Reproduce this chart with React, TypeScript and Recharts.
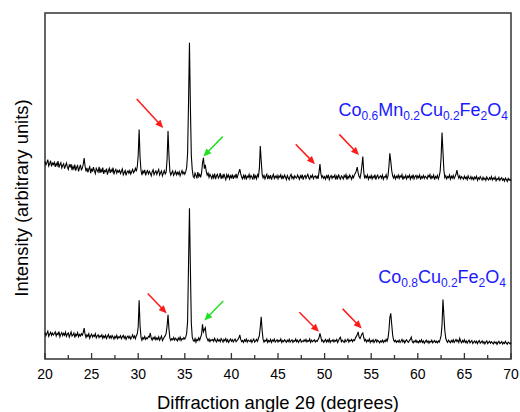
import { LineChart, Line, XAxis, YAxis, ReferenceLine } from "recharts";

document.body.style.margin = "0";

// 2θ grid: 20° .. 70° every 0.1°
const angleStart = 20;
const angleStep = 0.1;

// Co0.6Mn0.2Cu0.2Fe2O4 (one row per degree)
const topIntensity = [
  524, 515, 521, 529, 512, 518, 526, 511, 520, 516,
  522, 510, 519, 513, 525, 508, 516, 521, 507, 514,
  518, 505, 513, 520, 509, 503, 515, 510, 517, 501,
  511, 504, 516, 500, 509, 513, 498, 507, 515, 502,
  506, 516, 533, 512, 498, 507, 495, 504, 510, 493,
  505, 497, 509, 499, 492, 506, 501, 496, 510, 494,
  503, 495, 508, 491, 500, 497, 505, 489, 499, 506,
  494, 502, 497, 508, 490, 499, 503, 493, 500, 496,
  501, 492, 498, 504, 489, 495, 500, 487, 496, 499,
  493, 500, 491, 497, 503, 494, 499, 506, 498, 510,
  540, 609, 535, 500, 488, 499, 494, 502, 487, 496,
  500, 491, 498, 493, 486, 497, 502, 489, 495, 499,
  490, 497, 503, 488, 494, 499, 486, 493, 500, 491,
  496, 530, 605, 540, 497, 488, 494, 499, 487, 492,
  498, 489, 495, 490, 497, 486, 493, 500, 491, 496,
  490, 497, 508, 545, 680, 839, 670, 540, 502, 485,
  481, 493, 487, 479, 496, 484, 490, 482, 494, 520,
  534, 505, 515, 498, 488, 493, 482, 490, 485, 479,
  488, 481, 492, 477, 486, 490, 480, 484, 493, 478,
  487, 479, 491, 483, 476, 489, 482, 488, 478, 486,
  481, 490, 478, 486, 482, 491, 479, 488, 496, 504,
  491, 483, 478, 487, 480, 489, 476, 485, 482, 490,
  479, 487, 483, 476, 491, 480, 486, 478, 489, 484,
  505, 565, 525, 490, 481, 487, 478, 485, 490, 477,
  486, 480, 488, 476, 484, 490, 479, 485, 481, 487,
  478, 486, 482, 489, 477, 485, 480, 488, 483, 476,
  487, 481, 476, 485, 490, 479, 484, 478, 486, 482,
  480, 488, 483, 477, 486, 481, 489, 476, 484, 487,
  479, 485, 490, 481, 477, 486, 482, 488, 478, 484,
  486, 480, 485, 478, 495, 517, 492, 481, 486, 479,
  484, 477, 486, 481, 489, 476, 483, 487, 479, 485,
  482, 488, 476, 485, 479, 490, 481, 477, 486, 483,
  478, 487, 482, 489, 476, 485, 480, 488, 483, 477,
  486, 481, 489, 493, 499, 509, 494, 484, 480, 492,
  512, 537, 497, 479, 486, 481, 488, 477, 484, 480,
  487, 478, 485, 481, 489, 476, 484, 488, 479, 483,
  486, 480, 488, 477, 484, 482, 489, 478, 485, 510,
  546, 525, 500, 486, 480, 487, 478, 485, 481, 488,
  479, 486, 482, 489, 476, 484, 480, 487, 478, 485,
  482, 488, 477, 485, 480, 489, 478, 484, 487, 479,
  486, 481, 488, 476, 484, 480, 487, 479, 485, 482,
  478, 487, 483, 489, 477, 485, 481, 488, 476, 484,
  480, 487, 478, 485, 498, 535, 601, 550, 500, 481,
  486, 478, 484, 481, 488, 477, 485, 480, 487, 479,
  484, 490, 501, 488, 480, 486, 478, 484, 481, 477,
  485, 479, 483, 476, 486, 480, 478, 484, 477, 482,
  476, 483, 479, 485, 474, 481, 477, 484, 479, 475,
  482, 476, 480, 474, 483, 478, 475, 481, 477, 484,
  475, 480, 477, 483, 473, 479, 476, 482, 474, 478,
  481, 474, 478, 472, 480, 476, 471, 479, 474, 477,
  473,
];

// Co0.8Cu0.2Fe2O4 (one row per degree)
const bottomIntensity = [
  70, 62, 68, 74, 60, 66, 71, 63, 69, 64,
  67, 72, 61, 68, 65, 73, 59, 66, 70, 62,
  68, 63, 71, 60, 66, 69, 58, 65, 72, 61,
  64, 69, 57, 66, 62, 70, 59, 65, 61, 67,
  63, 70, 82, 65, 57, 64, 60, 67, 55, 62,
  66, 58, 63, 60, 67, 56, 61, 64, 57, 62,
  59, 64, 55, 61, 57, 63, 54, 60, 65, 56,
  61, 55, 62, 58, 53, 60, 56, 63, 54, 59,
  57, 62, 54, 59, 63, 55, 60, 52, 58, 61,
  55, 60, 53, 58, 64, 56, 61, 54, 62, 67,
  85, 156, 88, 58, 50, 57, 53, 60, 52, 56,
  54, 60, 58, 69, 55, 50, 57, 53, 59, 51,
  56, 52, 59, 50, 55, 61, 49, 54, 58, 62,
  68, 88, 117, 80, 55, 49, 54, 51, 57, 50,
  55, 52, 48, 56, 51, 58, 49, 54, 52, 57,
  53, 58, 68, 100, 250, 400, 240, 95, 58, 50,
  47, 54, 45, 52, 49, 56, 50, 58, 65, 92,
  72, 78, 83, 60, 54, 48, 53, 46, 51, 49,
  52, 47, 55, 49, 45, 53, 48, 51, 46, 54,
  50, 45, 52, 48, 54, 46, 51, 44, 49, 53,
  47, 51, 45, 50, 53, 46, 49, 52, 56, 64,
  52, 46, 49, 44, 51, 47, 53, 45, 50, 48,
  46, 51, 44, 49, 53, 45, 48, 52, 47, 55,
  62, 85, 112, 75, 52, 45, 50, 47, 53, 44,
  49, 46, 52, 44, 50, 47, 53, 45, 48, 51,
  45, 50, 47, 53, 44, 49, 46, 51, 48, 44,
  50, 46, 52, 45, 48, 51, 44, 49, 47, 53,
  46, 50, 44, 49, 52, 45, 48, 46, 51, 47,
  52, 45, 49, 47, 53, 44, 50, 46, 48, 51,
  45, 49, 47, 52, 56, 68, 58, 47, 50, 44,
  48, 52, 45, 50, 46, 53, 44, 49, 47, 51,
  45, 50, 47, 52, 44, 49, 55, 58, 46, 50,
  47, 44, 51, 46, 49, 53, 45, 50, 48, 52,
  46, 51, 49, 55, 60, 64, 72, 58, 54, 60,
  66, 69, 57, 48, 52, 45, 50, 47, 53, 44,
  49, 46, 51, 44, 48, 52, 45, 50, 47, 43,
  48, 45, 50, 44, 49, 46, 52, 47, 55, 75,
  110, 121, 92, 64, 50, 46, 50, 44, 48, 45,
  50, 44, 47, 52, 45, 49, 43, 48, 51, 46,
  44, 49, 52, 58, 47, 43, 48, 45, 50, 44,
  47, 43, 49, 45, 51, 44, 48, 42, 46, 50,
  44, 48, 42, 47, 45, 50, 43, 46, 49, 44,
  47, 43, 48, 45, 52, 62, 90, 158, 115, 75,
  55, 48, 44, 50, 46, 43, 49, 45, 51, 44,
  48, 52, 46, 50, 44, 55, 47, 43, 49, 45,
  51, 44, 48, 42, 47, 50, 43, 46, 49, 41,
  45, 48, 43, 47, 41, 46, 49, 42, 45, 48,
  42, 46, 40, 45, 48, 41, 44, 47, 42, 46,
  43, 40, 46, 42, 45, 39, 44, 47, 41, 43,
  46, 40, 44, 41, 47, 42, 39, 45, 43, 40,
  44,
];

const xTicks = [20, 22.5, 25, 27.5, 30, 32.5, 35, 37.5, 40, 42.5, 45, 47.5, 50, 52.5, 55, 57.5, 60, 62.5, 65, 67.5, 70];
const yTicks = [0, 100, 200, 300, 400, 500, 600, 700, 800, 900];

// arrows: [x1, y1, x2 (tip), y2 (tip)] in data units
const redArrows = [
  [29.84, 690, 32.69, 613],
  [46.9, 570, 48.97, 517],
  [51.58, 596, 53.69, 541],
  [31.02, 174, 33.06, 121],
  [47.29, 124, 49.4, 72],
  [51.94, 133, 53.98, 81],
];
const greenArrows = [
  [39.07, 590, 36.99, 537],
  [39.13, 154, 37.09, 102],
];

const chartData = topIntensity.map((v, i) => ({
  angle: Math.round((angleStart + i * angleStep) * 10) / 10,
  top: v,
  bottom: bottomIntensity[i],
}));

const FONT = "'Liberation Sans', Arial, sans-serif";
const AXIS = "#333";

const XTick = (props: any) => {
  const { x, y, payload } = props;
  const major = payload.value % 5 === 0;
  return (
    <g>
      <line x1={x} y1={y} x2={x} y2={y - (major ? 6 : 4)} stroke={AXIS} strokeWidth={1.3} />
      {major && (
        <text x={x} y={y + 20} textAnchor="middle" fontSize={14} fontFamily={FONT} fill="#000">
          {payload.value}
        </text>
      )}
    </g>
  );
};

const YTick = (props: any) => {
  const { x, y } = props;
  return <line x1={x} y1={y} x2={x + 6} y2={y} stroke={AXIS} strokeWidth={1.3} />;
};

const arrowShape = (color: string) => (p: any) => {
  const { x1, y1, x2, y2 } = p;
  const dx = x2 - x1;
  const dy = y2 - y1;
  const len = Math.hypot(dx, dy) || 1;
  const ux = dx / len;
  const uy = dy / len;
  const hl = 8;
  const hw = 3.5;
  const bx = x2 - ux * hl;
  const by = y2 - uy * hl;
  return (
    <g>
      <line x1={x1} y1={y1} x2={bx + ux} y2={by + uy} stroke={color} strokeWidth={1.5} />
      <polygon
        points={`${x2},${y2} ${bx - uy * hw},${by + ux * hw} ${bx + uy * hw},${by - ux * hw}`}
        fill={color}
      />
    </g>
  );
};

export default function App() {
  return (
    <LineChart
      width={520}
      height={412}
      data={chartData}
      margin={{ top: 13, right: 9, bottom: 0, left: 45 }}
      style={{ background: "#fff" }}
    >
      <XAxis
        dataKey="angle"
        type="number"
        domain={[20, 70]}
        ticks={xTicks}
        interval={0}
        height={53}
        axisLine={false}
        tickLine={false}
        tickSize={0}
        tickMargin={0}
        tick={(p: any) => <XTick {...p} />}
      />
      <YAxis
        type="number"
        domain={[0, 918]}
        ticks={yTicks}
        interval={0}
        width={0}
        axisLine={false}
        tickLine={false}
        tickSize={0}
        tickMargin={0}
        tick={(p: any) => <YTick {...p} />}
      />
      <Line dataKey="top" stroke="#000" strokeWidth={1.1} dot={false} isAnimationActive={false} />
      <Line dataKey="bottom" stroke="#000" strokeWidth={1.1} dot={false} isAnimationActive={false} />
      {redArrows.map((a, i) => (
        <ReferenceLine
          key={`r${i}`}
          segment={[{ x: a[0], y: a[1] }, { x: a[2], y: a[3] }]}
          shape={arrowShape("#ff1a1a")}
        />
      ))}
      {greenArrows.map((a, i) => (
        <ReferenceLine
          key={`g${i}`}
          segment={[{ x: a[0], y: a[1] }, { x: a[2], y: a[3] }]}
          shape={arrowShape("#22e022")}
        />
      ))}
      <rect x={45} y={13} width={466} height={346} fill="none" stroke={AXIS} strokeWidth={1.5} />
      <text x={508} y={116} textAnchor="end" fontSize={18} fontFamily={FONT} fill="#1a1aff">
        Co<tspan fontSize={12} dy={4}>0.6</tspan>
        <tspan dy={-4}>Mn</tspan><tspan fontSize={12} dy={4}>0.2</tspan>
        <tspan dy={-4}>Cu</tspan><tspan fontSize={12} dy={4}>0.2</tspan>
        <tspan dy={-4}>Fe</tspan><tspan fontSize={12} dy={4}>2</tspan>
        <tspan dy={-4}>O</tspan><tspan fontSize={12} dy={4}>4</tspan>
      </text>
      <text x={506} y={283} textAnchor="end" fontSize={18} fontFamily={FONT} fill="#1a1aff">
        Co<tspan fontSize={12} dy={4}>0.8</tspan>
        <tspan dy={-4}>Cu</tspan><tspan fontSize={12} dy={4}>0.2</tspan>
        <tspan dy={-4}>Fe</tspan><tspan fontSize={12} dy={4}>2</tspan>
        <tspan dy={-4}>O</tspan><tspan fontSize={12} dy={4}>4</tspan>
      </text>
      <text x={278} y={409} textAnchor="middle" fontSize={18.4} fontFamily={FONT} fill="#000">
        Diffraction angle 2θ (degrees)
      </text>
      <text
        x={28}
        y={198}
        textAnchor="middle"
        fontSize={18.4}
        fontFamily={FONT}
        fill="#000"
        transform="rotate(-90, 28, 198)"
      >
        Intensity (arbitrary units)
      </text>
    </LineChart>
  );
}
